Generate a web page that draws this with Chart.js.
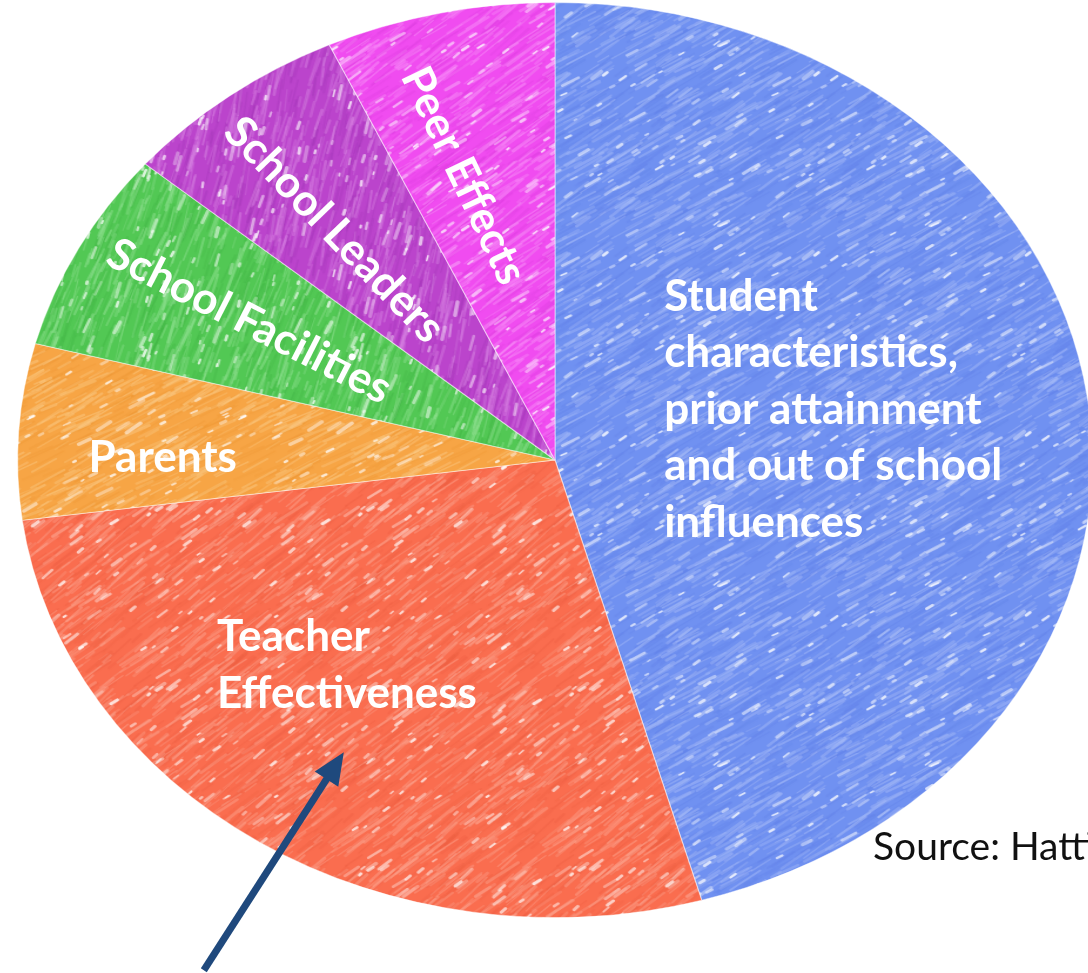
<!DOCTYPE html>
<html>
<head>
<meta charset="utf-8">
<title>Influences on student achievement</title>
<script src="https://cdn.jsdelivr.net/npm/chart.js@4.4.0/dist/chart.umd.min.js"></script>
<style>
  html, body { margin: 0; padding: 0; background: #fff; overflow: hidden; }
  canvas { display: block; }
</style>
</head>
<body>
<canvas id="pie" width="1088" height="973"></canvas>
<script>
const categories = [
  'Student characteristics, prior attainment and out of school influences',
  'Teacher Effectiveness',
  'Parents',
  'School Facilities',
  'School Leaders',
  'Peer Effects'
];
const shares = [45.6, 27.3, 6.2, 7.1, 6.9, 6.9];
const labelLines = [
  ['Student', 'characteristics,', 'prior attainment', 'and out of school', 'influences'],
  ['Teacher', 'Effectiveness'],
  ['Parents'],
  ['School Facilities'],
  ['School Leaders'],
  ['Peer Effects']
];
const sourceNote = 'Source: Hattie';

// crayon colours and the direction the strokes run in, per slice
const crayons = [
  { base: '#7091f1', light: '#a9bdf8', dark: '#5d7de6', angle: -35 },
  { base: '#fa6d4f', light: '#fca48f', dark: '#e95a3e', angle: -42 },
  { base: '#f7a545', light: '#fbca85', dark: '#ec932f', angle: -32 },
  { base: '#52c854', light: '#94e295', dark: '#3db041', angle: -72 },
  { base: '#bb44cc', light: '#d884e3', dark: '#9d33b3', angle: -78 },
  { base: '#f04cf0', light: '#f893f8', dark: '#d83adb', angle: -40 }
];

// where each label sits: fraction of the radius, degrees off the slice middle, text rotation
const labelPlacement = [
  { r: 0.53, shift: -4.5, rotate: 0 },
  { r: 0.59, shift: 7.7, rotate: 0 },
  { r: 0.73, shift: -3, rotate: 0 },
  { r: 0.645, shift: 0.8, rotate: 27 },
  { r: 0.65, shift: -1.7, rotate: 46 },
  { r: 0.645, shift: -2.6, rotate: 64.5 }
];

const STRETCH = 538 / 458;     // the pie is drawn as a wide ellipse
const LABEL_FONT = 'bold 44px Lato, "Open Sans", sans-serif';
const LINE_HEIGHT = 56.5;

function rng(seed) {
  return function () {
    seed = seed + 0x6D2B79F5 | 0;
    let t = Math.imul(seed ^ seed >>> 15, 1 | seed);
    t = t + Math.imul(t ^ t >>> 7, 61 | t) ^ t;
    return ((t ^ t >>> 14) >>> 0) / 4294967296;
  };
}

// tiled crayon texture: base colour, hatched strokes and white paper showing through
function crayonPattern(c, seed) {
  const T = 180;
  const tile = document.createElement('canvas');
  tile.width = tile.height = T;
  const g = tile.getContext('2d');
  const rand = rng(seed);
  g.fillStyle = c.base;
  g.fillRect(0, 0, T, T);
  g.lineCap = 'round';
  const strokes = (color, alpha, n, minLen, maxLen, minW, maxW) => {
    for (let i = 0; i < n; i++) {
      const x = rand() * T, y = rand() * T;
      const len = minLen + rand() * (maxLen - minLen);
      const a = (c.angle + (rand() - 0.5) * 14) * Math.PI / 180;
      const dx = Math.cos(a) * len / 2, dy = Math.sin(a) * len / 2;
      g.globalAlpha = alpha * (0.5 + rand() * 0.5);
      g.strokeStyle = color;
      g.lineWidth = minW + rand() * (maxW - minW);
      for (let ox = -T; ox <= T; ox += T) {
        for (let oy = -T; oy <= T; oy += T) {
          g.beginPath();
          g.moveTo(x + ox - dx, y + oy - dy);
          g.lineTo(x + ox + dx, y + oy + dy);
          g.stroke();
        }
      }
    }
  };
  strokes(c.dark, 0.3, 200, 10, 40, 1, 2.5);
  strokes(c.light, 0.5, 300, 8, 36, 1, 3);
  strokes('#ffffff', 0.8, 55, 2, 7, 1.5, 3);
  strokes('#ffffff', 0.55, 25, 8, 16, 2, 3.5);
  g.globalAlpha = 1;
  return g.createPattern(tile, 'repeat');
}

// squash the circle Chart.js lays out into an ellipse
const ellipsePlugin = {
  id: 'ellipse',
  beforeDatasetsDraw(chart) {
    const arc = chart.getDatasetMeta(0).data[0];
    const ctx = chart.ctx;
    ctx.save();
    ctx.translate(arc.x, arc.y);
    ctx.scale(STRETCH, 1);
    ctx.translate(-arc.x, -arc.y);
  },
  afterDatasetsDraw(chart) {
    chart.ctx.restore();
  }
};

function slicePoint(arc, shiftDeg, r) {
  const a = (arc.startAngle + arc.endAngle) / 2 + shiftDeg * Math.PI / 180;
  return {
    x: arc.x + Math.cos(a) * arc.outerRadius * r * STRETCH,
    y: arc.y + Math.sin(a) * arc.outerRadius * r
  };
}

const labelPlugin = {
  id: 'sliceLabels',
  afterDraw(chart) {
    const ctx = chart.ctx;
    const arcs = chart.getDatasetMeta(0).data;
    ctx.save();
    ctx.font = LABEL_FONT;
    ctx.fillStyle = '#ffffff';
    arcs.forEach((arc, i) => {
      const p = labelPlacement[i];
      const pt = slicePoint(arc, p.shift, p.r);
      const lines = labelLines[i];
      const w = Math.max(...lines.map(l => ctx.measureText(l).width));
      const capH = 0.72 * 44;
      ctx.save();
      ctx.translate(pt.x, pt.y);
      ctx.rotate(p.rotate * Math.PI / 180);
      ctx.textAlign = 'left';
      ctx.textBaseline = 'alphabetic';
      lines.forEach((line, k) => {
        const y = -(lines.length - 1) * LINE_HEIGHT / 2 + k * LINE_HEIGHT + capH / 2;
        ctx.fillText(line, -w / 2, y);
      });
      ctx.restore();
    });

    // arrow pointing into the teacher slice
    const tip = slicePoint(arcs[1], -1.7, 0.75);
    const tail = { x: tip.x - 140, y: tip.y + 218 };
    const len = Math.hypot(tip.x - tail.x, tip.y - tail.y);
    const ux = (tip.x - tail.x) / len, uy = (tip.y - tail.y) / len;
    const head = 32, half = 14;
    const bx = tip.x - ux * head, by = tip.y - uy * head;
    ctx.strokeStyle = '#1f497d';
    ctx.fillStyle = '#1f497d';
    ctx.lineWidth = 7;
    ctx.beginPath();
    ctx.moveTo(tail.x, tail.y);
    ctx.lineTo(bx + ux * 2, by + uy * 2);
    ctx.stroke();
    ctx.beginPath();
    ctx.moveTo(tip.x, tip.y);
    ctx.lineTo(bx - uy * half, by + ux * half);
    ctx.lineTo(bx + uy * half, by - ux * half);
    ctx.closePath();
    ctx.fill();

    // source note, running off the right edge
    ctx.font = '39px Lato, "Open Sans", sans-serif';
    ctx.fillStyle = '#111111';
    ctx.textAlign = 'left';
    ctx.textBaseline = 'alphabetic';
    ctx.fillText(sourceNote, 873, 860);
    ctx.restore();
  }
};

new Chart(document.getElementById('pie'), {
  type: 'pie',
  data: {
    labels: categories,
    datasets: [{
      data: shares,
      backgroundColor: crayons.map((c, i) => crayonPattern(c, 17 + i * 31)),
      borderColor: 'rgba(255,255,255,0.45)',
      borderWidth: 1,
      hoverOffset: 0,
      clip: false
    }]
  },
  options: {
    responsive: false,
    animation: false,
    layout: { padding: { left: 97, right: 75, top: 2, bottom: 55 } },
    plugins: {
      legend: { display: false },
      tooltip: { enabled: false }
    }
  },
  plugins: [ellipsePlugin, labelPlugin]
});
</script>
</body>
</html>
